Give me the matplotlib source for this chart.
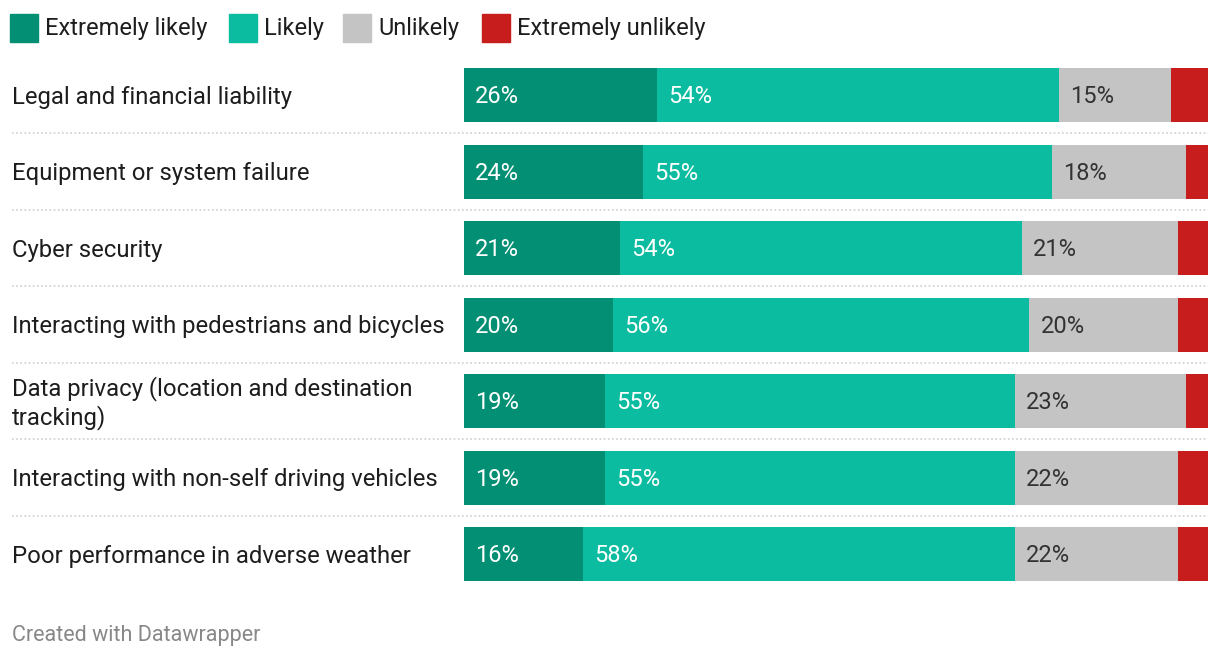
import matplotlib.pyplot as plt
from matplotlib.patches import Rectangle
from matplotlib.transforms import blended_transform_factory, offset_copy

plt.rcParams["font.family"] = ["Roboto", "DejaVu Sans"]

categories = [
    "Legal and financial liability",
    "Equipment or system failure",
    "Cyber security",
    "Interacting with pedestrians and bicycles",
    "Data privacy (location and destination\ntracking)",
    "Interacting with non-self driving vehicles",
    "Poor performance in adverse weather",
]
extremely_likely = [26, 24, 21, 20, 19, 19, 16]
likely = [54, 55, 54, 56, 55, 55, 58]
unlikely = [15, 18, 21, 20, 23, 22, 22]
extremely_unlikely = [5, 3, 4, 4, 3, 4, 4]

series = [
    ("Extremely likely", extremely_likely, "#028f73", "white"),
    ("Likely", likely, "#0bbca0", "white"),
    ("Unlikely", unlikely, "#c4c4c4", "#333333"),
    ("Extremely unlikely", extremely_unlikely, "#c71e1d", None),
]

W, H = 1220, 658
fig = plt.figure(figsize=(W / 100, H / 100), dpi=100)

# bar area in pixels
x0, x1 = 464, 1208
row_top, row_bot = 95, 554
step = (row_bot - row_top) / (len(categories) - 1)
ax_top = row_top - step / 2
ax_bot = row_bot + step / 2
ax = fig.add_axes([x0 / W, 1 - ax_bot / H, (x1 - x0) / W, (ax_bot - ax_top) / H])

# nudge text down a touch so it sits like the original
down = offset_copy(ax.transData, fig=fig, x=0, y=-1.2, units="points")

ys = list(range(len(categories)))
left = [0] * len(categories)
for name, vals, color, tcolor in series:
    ax.barh(ys, vals, left=left, height=54 / step, color=color, linewidth=0)
    if tcolor:
        for y, l, v in zip(ys, left, vals):
            ax.text(l + 1.5, y, f"{v}%", color=tcolor, fontsize=17,
                    ha="left", va="center", transform=down)
    left = [l + v for l, v in zip(left, vals)]

ax.set_xlim(0, sum(v[0] for _, v, _, _ in series))
ax.set_ylim(len(categories) - 0.5, -0.5)
ax.axis("off")

# row labels and dotted separators
trans = blended_transform_factory(fig.transFigure, ax.transData)
label_trans = offset_copy(trans, fig=fig, x=0, y=-1.5, units="points")
for y, cat in zip(ys, categories):
    ax.text(12 / W, y, cat, transform=label_trans, fontsize=17.2,
            color="#1d1d1d", ha="left", va="center", linespacing=1.2)
    if y < len(categories) - 1:
        ax.plot([12 / W, x1 / W], [y + 0.5, y + 0.5], transform=trans,
                color="#cfcfcf", linestyle=(0, (1, 1.5)), linewidth=1.2,
                clip_on=False)

# legend
legend_x = [10, 229, 343, 482]
for (name, _, color, _), lx in zip(series, legend_x):
    fig.patches.append(Rectangle((lx / W, 1 - 42 / H), 28 / W, 28 / H,
                                 transform=fig.transFigure, color=color))
    fig.text((lx + 35) / W, 1 - 28.5 / H, name, fontsize=17, color="#1d1d1d",
             ha="left", va="center")

fig.text(12 / W, 1 - 636 / H, "Created with Datawrapper", fontsize=15.5,
         color="#888888", ha="left", va="center")

fig.savefig("out.png", dpi=100)
